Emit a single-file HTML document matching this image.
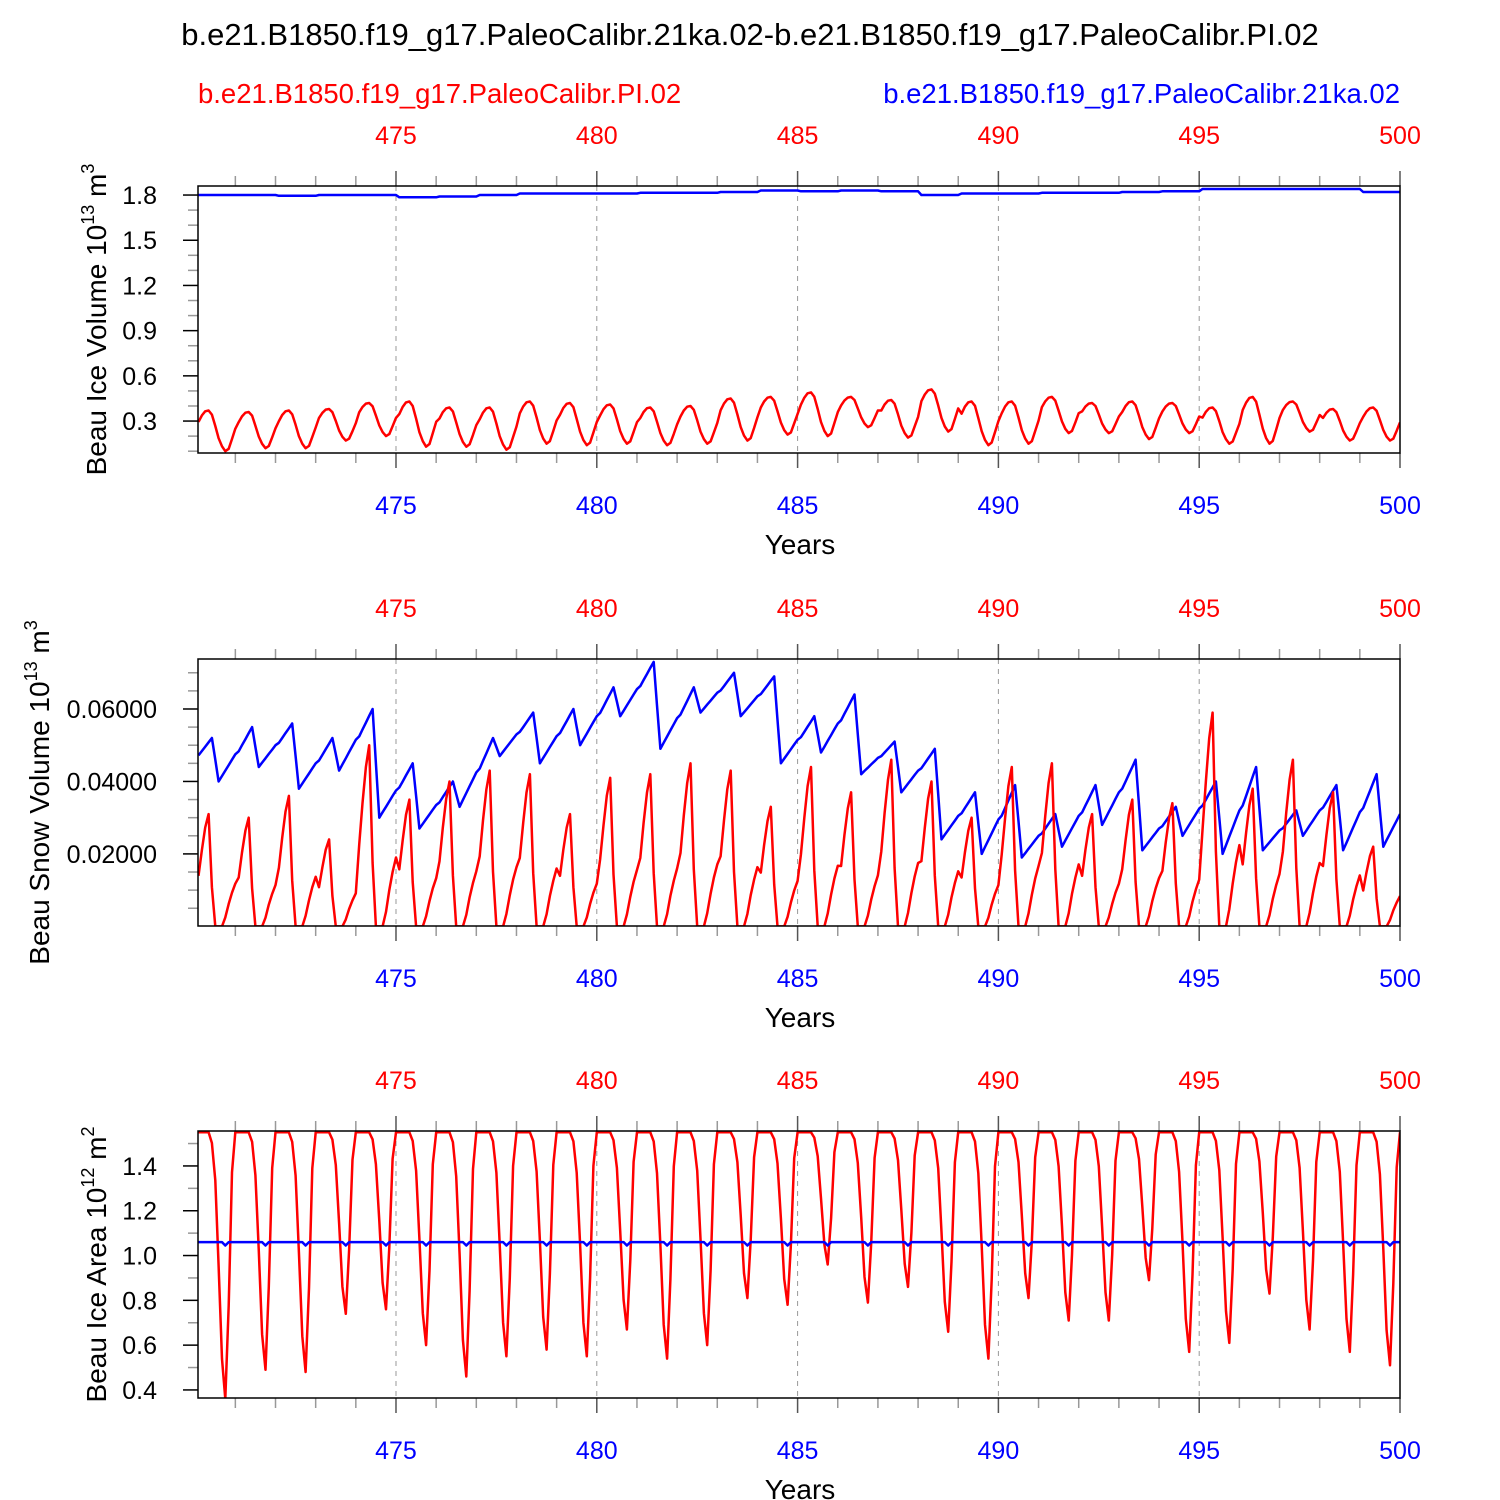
<!DOCTYPE html>
<html><head><meta charset="utf-8"><style>
html,body{margin:0;padding:0;background:#fff}
svg{display:block;font-family:"Liberation Sans",sans-serif}
</style></head><body>
<svg id="chart" width="1500" height="1500" viewBox="0 0 1500 1500">
<text x="750" y="45" text-anchor="middle" font-size="31">b.e21.B1850.f19_g17.PaleoCalibr.21ka.02-b.e21.B1850.f19_g17.PaleoCalibr.PI.02</text>
<text x="198" y="103" font-size="27.5" fill="#ff0000">b.e21.B1850.f19_g17.PaleoCalibr.PI.02</text>
<text x="1400" y="103" text-anchor="end" font-size="27.5" fill="#0000ff">b.e21.B1850.f19_g17.PaleoCalibr.21ka.02</text>
<g id="plots"></g>
</svg>
<script>
// ---- data (per-year values, years 470..499) ----
const years = [470,471,472,473,474,475,476,477,478,479,480,481,482,483,484,485,486,487,488,489,490,491,492,493,494,495,496,497,498,499];
// Panel 1: ice volume (10^13 m^3)
const redVolMax = [0.37,0.36,0.37,0.38,0.42,0.43,0.39,0.39,0.43,0.42,0.41,0.39,0.40,0.45,0.46,0.49,0.46,0.44,0.51,0.43,0.43,0.46,0.42,0.43,0.42,0.39,0.46,0.43,0.38,0.39];
const redVolMin = [0.10,0.12,0.12,0.17,0.20,0.13,0.13,0.11,0.15,0.14,0.15,0.14,0.15,0.17,0.21,0.20,0.26,0.19,0.23,0.14,0.15,0.22,0.22,0.18,0.22,0.15,0.15,0.23,0.17,0.17];
const redVolShape = [0.72,0.88,0.98,1.0,0.9,0.62,0.32,0.12,0.0,0.06,0.3,0.55];
const blueVol = [1.80,1.80,1.795,1.80,1.80,1.785,1.79,1.80,1.81,1.81,1.81,1.815,1.815,1.82,1.83,1.825,1.83,1.825,1.80,1.81,1.81,1.815,1.815,1.82,1.825,1.84,1.84,1.84,1.84,1.82];
// Panel 2: snow volume
const redSnowMax = [0.031,0.030,0.036,0.024,0.050,0.035,0.040,0.043,0.042,0.031,0.041,0.042,0.045,0.043,0.033,0.044,0.037,0.046,0.040,0.030,0.044,0.045,0.031,0.035,0.034,0.059,0.038,0.046,0.037,0.022];
const redSnowShape = [0.45,0.68,0.88,1.0,0.35,0.0,0.0,0.0,0.08,0.2,0.3,0.38];
const blueSnowPeak = [0.052,0.055,0.056,0.052,0.060,0.045,0.040,0.052,0.059,0.060,0.066,0.073,0.066,0.070,0.069,0.058,0.064,0.051,0.049,0.037,0.039,0.031,0.039,0.046,0.033,0.040,0.044,0.032,0.039,0.042];
const blueSnowLow  = [0.040,0.044,0.038,0.043,0.030,0.027,0.033,0.047,0.045,0.050,0.058,0.049,0.059,0.058,0.045,0.048,0.042,0.037,0.024,0.020,0.019,0.022,0.028,0.021,0.025,0.020,0.021,0.025,0.021,0.022];
const blueSnowStart = 0.046;
const blueSnowEnd = 0.031;
// Panel 3: ice area (10^12 m^2)
const redAreaMin = [0.36,0.49,0.48,0.74,0.76,0.60,0.46,0.55,0.58,0.55,0.67,0.54,0.60,0.81,0.78,0.96,0.79,0.86,0.66,0.54,0.81,0.71,0.71,0.89,0.57,0.61,0.83,0.67,0.57,0.51];
const redAreaMax = 1.55;
const redAreaShape = [1,1,1,1,0.96,0.82,0.5,0.15,0,0.35,0.85,1];
const blueArea = [1.06,1.06,1.06,1.06,1.06,1.06,1.06,1.06,1.06,1.06,1.06,1.06,1.06,1.06,1.06,1.06,1.06,1.06,1.06,1.06,1.06,1.06,1.06,1.06,1.06,1.06,1.06,1.06,1.06,1.06];
const blueAreaDip = [1.045,1.045,1.045,1.045,1.045,1.045,1.045,1.045,1.045,1.045,1.045,1.045,1.045,1.045,1.045,1.045,1.045,1.045,1.045,1.045,1.045,1.045,1.045,1.045,1.045,1.045,1.045,1.045,1.045,1.045];
const xTicks = [475,480,485,490,495,500];

// ---- series builders ----
function monthly(f){const out=[];for(let y=0;y<years.length;y++)for(let m=0;m<12;m++)out.push([years[y]+(m+1)/12,f(y,m)]);return out;}
const sRedVol = monthly((y,m)=>redVolMin[y]+(redVolMax[y]-redVolMin[y])*redVolShape[m]);
const sBlueVol = monthly((y,m)=>blueVol[y]);
const sRedSnow = monthly((y,m)=>redSnowMax[y]*redSnowShape[m]);
const sBlueSnow = monthly((y,m)=>{
  if(m===4) return blueSnowPeak[y];
  if(m===6) return blueSnowLow[y];
  if(m===5) return (blueSnowPeak[y]+blueSnowLow[y])/2;
  if(m<4){const prev = y>0?blueSnowLow[y-1]:blueSnowStart; const p0 = y>0?-5:-1; const fr=(m-p0)/(4-p0); return prev+(blueSnowPeak[y]-prev)*fr;}
  const next = y<years.length-1?blueSnowPeak[y+1]:blueSnowEnd; const span = y<years.length-1?10:5; const fr=(m-6)/span; return blueSnowLow[y]+(next-blueSnowLow[y])*fr;
});
const sRedArea = monthly((y,m)=>redAreaMin[y]+(redAreaMax-redAreaMin[y])*redAreaShape[m]);
const sBlueArea = monthly((y,m)=>m===8?blueAreaDip[y]:blueArea[y]);

const NS="http://www.w3.org/2000/svg";
const root=document.getElementById('plots');
function el(tag,attrs,parent){const e=document.createElementNS(NS,tag);for(const k in attrs)e.setAttribute(k,attrs[k]);(parent||root).appendChild(e);return e;}
const X0=198,X1=1400,T0=470.07,T1=500;
const xs=t=>X0+(t-T0)/(T1-T0)*(X1-X0);

function panel(cfg){
  const g=el('g',{});
  
  
  const ys=v=>cfg.bot-(v-cfg.vmin)/(cfg.vmax-cfg.vmin)*(cfg.bot-cfg.top);
  xTicks.forEach(t=>{if(t<500){const l=el('line',{x1:xs(t),x2:xs(t),y1:cfg.top,y2:cfg.bot,stroke:'#999','stroke-dasharray':'5,5','stroke-width':1},g);}});
  for(let t=471;t<=500;t++){
    const major=t%5===0, len=major?15:10, col=major?'#555':'#999';
    el('line',{x1:xs(t),x2:xs(t),y1:cfg.top,y2:cfg.top-len,stroke:col,'stroke-width':1.5},g);
    el('line',{x1:xs(t),x2:xs(t),y1:cfg.bot,y2:cfg.bot+len,stroke:col,'stroke-width':1.5},g);
  }
  xTicks.forEach(t=>{
    const a=el('text',{x:xs(t),y:cfg.top-42,'text-anchor':'middle','font-size':25,fill:'#ff0000'},g);a.textContent=t;
    
    const b=el('text',{x:xs(t),y:cfg.bot+61,'text-anchor':'middle','font-size':25,fill:'#0000ff'},g);b.textContent=t;
    
  });
  const xt=el('text',{x:800,y:cfg.bot+101,'text-anchor':'middle','font-size':28},g);xt.textContent='Years';
  
  for(let v=cfg.minorStart;v<=cfg.vmax+1e-9;v+=cfg.minor){
    if(v<cfg.vmin-1e-9)continue;
    const isMaj=cfg.majors.some(m=>Math.abs(m-v)<cfg.minor/10);
    el('line',{x1:X0,x2:X0-(isMaj?15:10),y1:ys(v),y2:ys(v),stroke:isMaj?'#000':'#999','stroke-width':1.5},g);
  }
  cfg.majors.forEach((v,i)=>{const t=el('text',{x:X0-41,y:ys(v)+9,'text-anchor':'end','font-size':25},g);t.textContent=cfg.labels[i];
    });
  const yl=el('text',{transform:`translate(${cfg.ylx},${(cfg.top+cfg.bot)/2}) rotate(-90)`,'text-anchor':'middle','font-size':28},g);
  yl.innerHTML=cfg.ytitle;
  
  const clipId='clip'+cfg.name;
  const cp=el('clipPath',{id:clipId},g);el('rect',{x:X0,y:cfg.top,width:X1-X0,height:cfg.bot-cfg.top},cp);
  cfg.series.forEach(s=>{
    const d=s.data.map((p,i)=>(i?'L':'M')+xs(p[0]).toFixed(1)+','+ys(p[1]).toFixed(1)).join('');
    const pth=el('path',{d,fill:'none',stroke:s.color,'stroke-width':2.5,'stroke-linejoin':'round','clip-path':`url(#${clipId})`},g);
    
  });
  const fr=el('rect',{x:X0,y:cfg.top,width:X1-X0,height:cfg.bot-cfg.top,fill:'none',stroke:'#000','stroke-width':1.5},g);
  
}
const sup=(a,b)=>`${a} 10<tspan dy="-12" font-size="18">${b}</tspan><tspan dy="12"> m</tspan><tspan dy="-12" font-size="18">${b==='12'?'2':'3'}</tspan>`;
panel({name:'ice-volume-panel',top:186,bot:453,vmin:0.088,vmax:1.86,minor:0.1,minorStart:0.1,majors:[0.3,0.6,0.9,1.2,1.5,1.8],labels:['0.3','0.6','0.9','1.2','1.5','1.8'],ylx:106,ytitle:sup('Beau Ice Volume','13'),
  series:[{name:'ice-volume-pi-line',color:'#ff0000',data:sRedVol},{name:'ice-volume-21ka-line',color:'#0000ff',data:sBlueVol}]});
panel({name:'snow-volume-panel',top:659,bot:926,vmin:0.0001,vmax:0.0738,minor:0.005,minorStart:0.005,majors:[0.02,0.04,0.06],labels:['0.02000','0.04000','0.06000'],ylx:49,ytitle:sup('Beau Snow Volume','13'),
  series:[{name:'snow-volume-21ka-line',color:'#0000ff',data:sBlueSnow},{name:'snow-volume-pi-line',color:'#ff0000',data:sRedSnow}]});
panel({name:'ice-area-panel',top:1131,bot:1398,vmin:0.364,vmax:1.556,minor:0.1,minorStart:0.4,majors:[0.4,0.6,0.8,1.0,1.2,1.4],labels:['0.4','0.6','0.8','1.0','1.2','1.4'],ylx:106,ytitle:sup('Beau Ice Area','12'),
  series:[{name:'ice-area-pi-line',color:'#ff0000',data:sRedArea},{name:'ice-area-21ka-line',color:'#0000ff',data:sBlueArea}]});
</script>
</body></html>
